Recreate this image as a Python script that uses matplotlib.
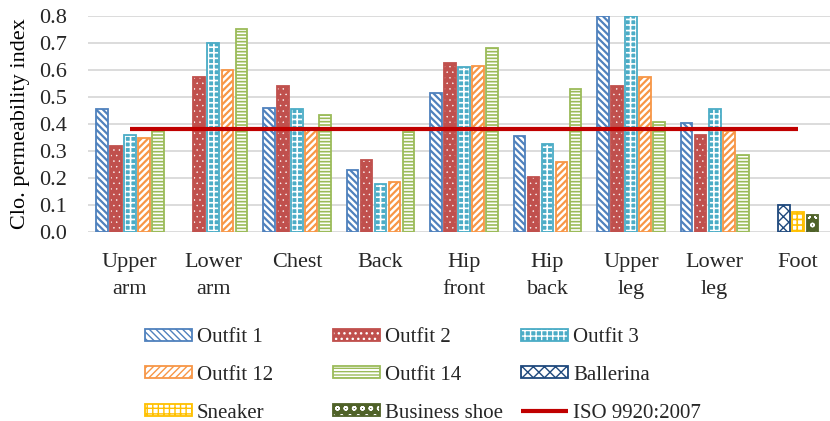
import numpy as np
import matplotlib
matplotlib.use('Agg')
import matplotlib.pyplot as plt
from matplotlib.legend_handler import HandlerTuple

plt.rcParams['font.family'] = 'Liberation Serif'
plt.rcParams['text.color'] = '#262626'
plt.rcParams['xtick.color'] = '#262626'
plt.rcParams['ytick.color'] = '#262626'

# body part regions + foot
regions = ['Upper\narm', 'Lower\narm', 'Chest', 'Back', 'Hip\nfront',
           'Hip\nback', 'Upper\nleg', 'Lower\nleg', 'Foot']

# clo permeability index per outfit (8 body regions, no foot)
outfit_names = ['Outfit 1', 'Outfit 2', 'Outfit 3', 'Outfit 12', 'Outfit 14']
outfit1 = [0.455, np.nan, 0.46, 0.23, 0.515, 0.355, 0.80, 0.405]
outfit2 = [0.32, 0.575, 0.54, 0.265, 0.627, 0.205, 0.54, 0.36]
outfit3 = [0.36, 0.70, 0.457, 0.178, 0.61, 0.325, 0.80, 0.457]
outfit12 = [0.347, 0.60, 0.384, 0.185, 0.616, 0.26, 0.574, 0.374]
outfit14 = [0.386, 0.75, 0.432, 0.37, 0.68, 0.528, 0.407, 0.284]

# shoes, foot only
shoe_names = ['Ballerina', 'Sneaker', 'Business shoe']
shoe_values = [0.10, 0.074, 0.063]

iso_value = 0.38

# (edge colour, face colour, hatch colour, hatch, hatch linewidth)
outfit_styles = [
    ('#4F81BD', 'white', '#4F81BD', '\\' * 5, 1.6),
    ('#C0504D', '#C0504D', 'white', '...', 0.3),
    ('#4BACC6', '#4BACC6', 'white', '+++', 1.2),
    ('#F79646', 'white', '#F79646', '/' * 5, 1.6),
    ('#9BBB59', 'white', '#9BBB59', '-' * 5, 1.2),
]
shoe_styles = [
    ('#1F497D', 'white', '#1F497D', 'xxx', 1.0),
    ('#FFC000', 'white', '#FFC000', '+++', 1.2),
    ('#4F6228', '#4F6228', 'white', 'oo', 1.0),
]


def hatched_bars(ax, x, vals, width, style):
    edge, face, hcol, hatch, hlw = style
    plt.rcParams['hatch.linewidth'] = hlw
    fill = ax.bar(x, vals, width, color=face, edgecolor=hcol, linewidth=0,
                  hatch=hatch, zorder=2)
    outline = ax.bar(x, vals, width, fill=False, edgecolor=edge,
                     linewidth=1.3, zorder=3)
    return (fill[0], outline[0])


fig = plt.figure(figsize=(8.3, 4.21), dpi=100)
ax = fig.add_axes([88 / 830, 189 / 421, 752 / 830, 216 / 421])

pitch = 0.168
width = 0.14
x_body = np.arange(8)
handles = {}
series = [outfit1, outfit2, outfit3, outfit12, outfit14]
for i, (name, vals, style) in enumerate(zip(outfit_names, series, outfit_styles)):
    handles[name] = hatched_bars(ax, x_body + (i - 2) * pitch, vals, width, style)

for i, (name, val, style) in enumerate(zip(shoe_names, shoe_values, shoe_styles)):
    handles[name] = hatched_bars(ax, [8 + (i - 1) * 0.172], [val], width, style)

iso_line, = ax.plot([0, 8], [iso_value, iso_value], color='#C00000', lw=3,
                    solid_capstyle='butt', zorder=4)
handles['ISO 9920:2007'] = iso_line

ax.set_xlim(-0.5, 8.5)
ax.set_ylim(0, 0.8)
ax.set_yticks(np.arange(0, 0.81, 0.1))
ax.set_yticklabels(['%.1f' % v for v in np.arange(0, 0.81, 0.1)])
ax.set_xticks(np.arange(9))
ax.set_xticklabels(regions, linespacing=1.55)
ax.tick_params(axis='y', length=0, pad=15, labelsize=16)
ax.tick_params(axis='x', length=0, pad=15, labelsize=16)
ax.grid(axis='y', color='#D9D9D9', lw=1.3)
ax.set_axisbelow(True)
for s in ax.spines.values():
    s.set_visible(False)

ax.set_ylabel('Clo. permeability index', fontsize=16)
ax.yaxis.set_label_coords(-(88 - 30) / 752, 0.5)

# legend: three columns placed by hand
columns = [['Outfit 1', 'Outfit 12', 'Sneaker'],
           ['Outfit 2', 'Outfit 14', 'Business shoe'],
           ['Outfit 3', 'Ballerina', 'ISO 9920:2007']]
col_x = [145, 333, 521]
for cx, names in zip(col_x, columns):
    fig.legend([handles[n] for n in names], names, loc='upper left',
               bbox_to_anchor=(cx / 830, 1 - 328 / 421), frameon=False,
               borderpad=0, borderaxespad=0,
               prop={'family': 'Liberation Serif', 'size': 15},
               handlelength=2.25, handleheight=0.5, handletextpad=0.25,
               labelspacing=0.9,
               handler_map={tuple: HandlerTuple(ndivide=1, pad=0)})

fig.savefig('out.png', dpi=100)
